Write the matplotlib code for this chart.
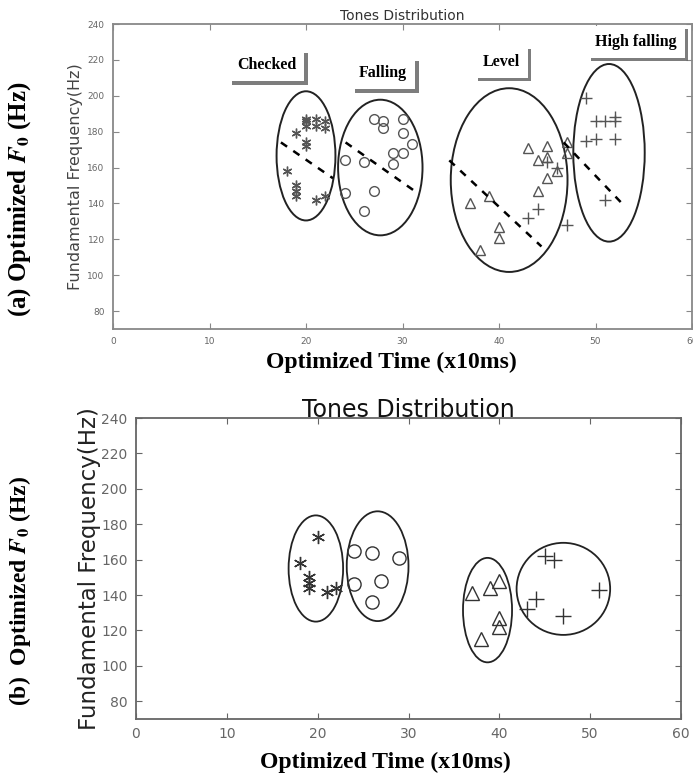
import numpy as np
import matplotlib
matplotlib.use('Agg')
import matplotlib.pyplot as plt
from matplotlib.patches import Ellipse
import matplotlib.patheffects as pe

plt.rcParams['mathtext.fontset'] = 'stix'

# (a) original data
checked_a_x = [18, 19, 19, 19, 19, 20, 20, 20, 20, 20, 21, 21, 21, 22, 22, 22]
checked_a_y = [158, 179, 150, 147, 144, 187, 186, 183, 174, 172, 187, 183, 142, 186, 182, 144]
falling_a_x = [24, 24, 26, 26, 27, 27, 28, 28, 29, 29, 30, 30, 30, 31]
falling_a_y = [164, 146, 163, 136, 187, 147, 186, 182, 168, 162, 187, 179, 168, 173]
level_a_x = [37, 38, 39, 40, 40, 43, 44, 44, 45, 45, 45, 46, 47, 47]
level_a_y = [140, 114, 144, 127, 121, 171, 164, 147, 172, 166, 154, 158, 174, 168]
high_a_x = [43, 44, 45, 46, 47, 49, 49, 50, 50, 51, 51, 52, 52, 52]
high_a_y = [132, 137, 163, 160, 128, 199, 175, 186, 176, 186, 142, 188, 186, 176]

# (b) optimized data
checked_b_x = [18, 19, 19, 19, 20, 21, 22]
checked_b_y = [158, 150, 147, 144, 173, 142, 144]
falling_b_x = [24, 26, 29, 24, 27, 26]
falling_b_y = [165, 164, 161, 146, 148, 136]
level_b_x = [37, 39, 40, 40, 40, 38]
level_b_y = [141, 144, 148, 127, 122, 115]
high_b_x = [45, 46, 44, 43, 47, 51]
high_b_y = [162, 160, 138, 132, 128, 143]

# cluster ellipses: centre x, centre y, width, height
ell_a = [(20.0, 166.5, 6.1, 72), (27.7, 160, 8.75, 75.6),
         (41.05, 153, 12.1, 102.4), (51.4, 168.2, 7.4, 99)]
ell_b = [(19.8, 155, 6.0, 60), (26.6, 156.3, 6.8, 62),
         (38.7, 131.5, 5.4, 59), (47.05, 143.5, 10.3, 52)]

# falling trend lines in (a)
trend_x = [(17.4, 22.8), (24.1, 31.5), (34.85, 44.4), (46.7, 53.1)]
trend_y = [(174, 154), (174, 146), (164, 116), (174, 138)]

tone_names = ['Checked', 'Falling', 'Level', 'High falling']
name_x = [15.9, 28.0, 40.2, 54.2]
name_y = [217, 212.5, 219, 230]

xticks = [0, 10, 20, 30, 40, 50, 60]
yticks = [80, 100, 120, 140, 160, 180, 200, 220, 240]

fig = plt.figure(figsize=(6.93, 7.76), dpi=100)
ax1 = fig.add_axes([113/693, 1-329/776, 579/693, 305/776])
ax2 = fig.add_axes([136/693, 1-719/776, 545/693, 301/776])


def style_axes(ax, fs, col):
    ax.set_xlim(0, 60)
    ax.set_ylim(70, 240)
    ax.set_xticks(xticks)
    ax.set_yticks(yticks)
    ax.tick_params(direction='in', top=True, right=True, length=4,
                   labelsize=fs, labelcolor='#666666', color=col, pad=6)
    for s in ax.spines.values():
        s.set_color(col)
        s.set_linewidth(1.3)


def draw_points(ax, ms, col, data):
    cx, cy, fx, fy, lx, ly, hx, hy = data
    ax.plot(cx, cy, ls='none', marker=(6, 2, 0), ms=ms, mec=col, mew=1.0)
    ax.plot(fx, fy, ls='none', marker='o', ms=ms, mfc='none', mec=col, mew=1.0)
    ax.plot(lx, ly, ls='none', marker='^', ms=ms, mfc='none', mec=col, mew=1.0)
    ax.plot(hx, hy, ls='none', marker='+', ms=ms + 2, mec=col, mew=1.0)


# ---- (a)
style_axes(ax1, 6.5, '#888888')
draw_points(ax1, 7, '#555555', [checked_a_x, checked_a_y, falling_a_x, falling_a_y,
                                level_a_x, level_a_y, high_a_x, high_a_y])
for (x0, y0, w, h) in ell_a:
    ax1.add_patch(Ellipse((x0, y0), w, h, fill=False, ec='#222222', lw=1.4))
for tx, ty in zip(trend_x, trend_y):
    ax1.plot(tx, ty, color='black', lw=1.8, ls=(0, (3, 3)))
for name, nx, ny in zip(tone_names, name_x, name_y):
    t = ax1.text(nx, ny, name, ha='center', va='center', family='Liberation Serif',
                 weight='bold', fontsize=11.5, clip_on=False,
                 bbox=dict(boxstyle='square,pad=0.5', fc='white', ec='none'))
    t.get_bbox_patch().set_path_effects([
        pe.SimplePatchShadow(offset=(2.5, -2.5), shadow_rgbFace='#666666', alpha=0.85),
        pe.Normal()])
ax1.set_title('Tones Distribution', fontsize=10, color='#333333', pad=3)
ax1.set_ylabel('Fundamental Frequency(Hz)', fontsize=11.5, color='#444444', labelpad=3)

# ---- (b)
style_axes(ax2, 10, '#666666')
draw_points(ax2, 9.5, '#333333', [checked_b_x, checked_b_y, falling_b_x, falling_b_y,
                                  level_b_x, level_b_y, high_b_x, high_b_y])
for (x0, y0, w, h) in ell_b:
    ax2.add_patch(Ellipse((x0, y0), w, h, fill=False, ec='#222222', lw=1.3))
ax2.set_title('Tones Distribution', fontsize=17, color='#111111', pad=1)
ax2.set_ylabel('Fundamental Frequency(Hz)', fontsize=16.5, color='#222222', labelpad=0)

# outer labels
fig.text(391/693, 1-362/776, 'Optimized Time (x10ms)', ha='center', va='center',
         family='Liberation Serif', weight='bold', fontsize=17)
fig.text(385/693, 1-762/776, 'Optimized Time (x10ms)', ha='center', va='center',
         family='Liberation Serif', weight='bold', fontsize=17)
fig.text(20/693, 1-199/776, r'(a) Optimized $\mathbfit{F}_\mathbf{0}$ (Hz)', rotation=90,
         ha='center', va='center', family='Liberation Serif', weight='bold', fontsize=18)
fig.text(20/693, 1-591/776, r'(b)  Optimized $\mathbfit{F}_\mathbf{0}$ (Hz)', rotation=90,
         ha='center', va='center', family='Liberation Serif', weight='bold', fontsize=17)

fig.savefig('out.png', dpi=100)
